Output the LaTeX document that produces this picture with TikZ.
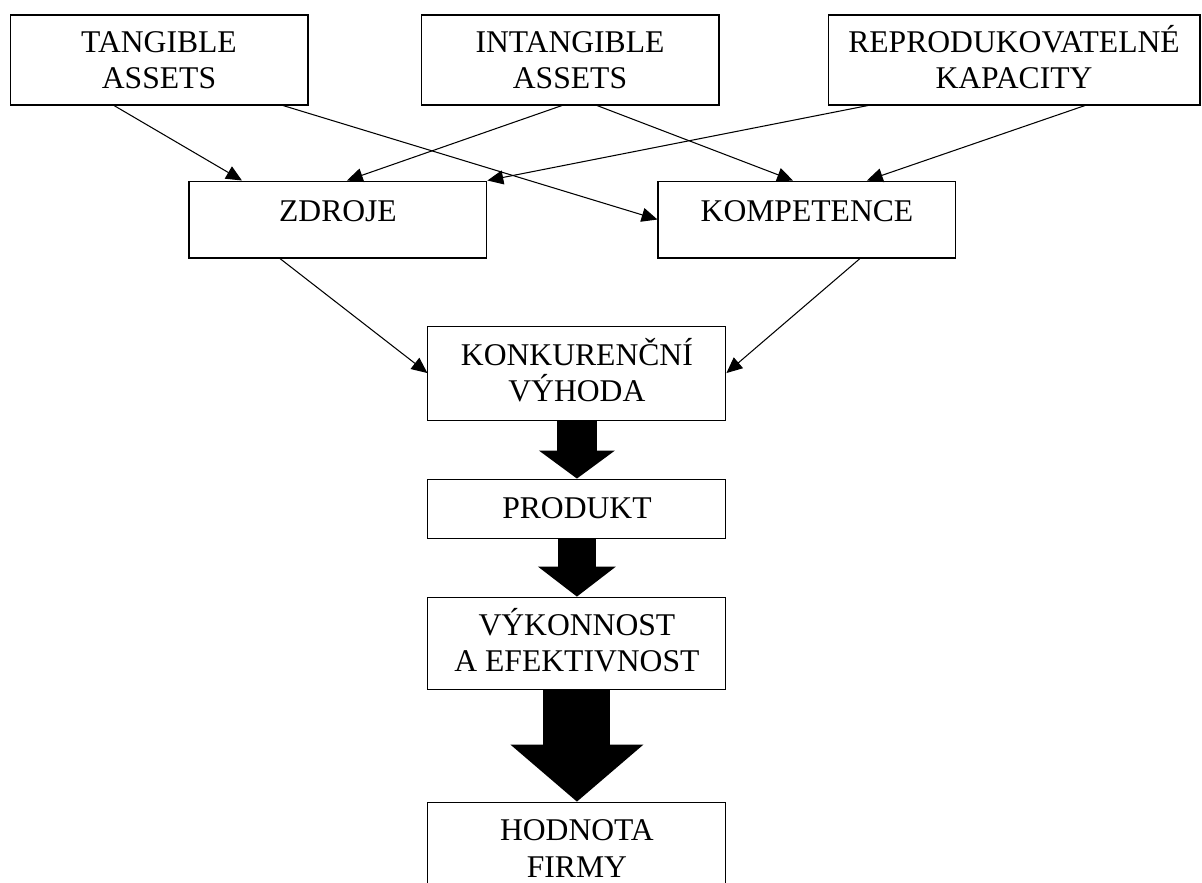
\documentclass[tikz,border=0pt]{standalone}
\usepackage{fontspec}
\setmainfont{Liberation Serif}
\usetikzlibrary{positioning, calc, arrows.meta}

\begin{document}
\begin{tikzpicture}[
    x=0.02cm, y=-0.02cm,
    node distance=1.16cm and 2.2cm,
    box/.style={rectangle, draw, line width=0.6pt, minimum width=5.96cm, align=center,
    inner sep=0pt, font=\fontsize{18}{20.7}\selectfont},
    source/.style={box, minimum height=1.8cm},
    middle/.style={box, minimum height=1.54cm, text height=12.6pt, text depth=10.8pt},
    arrow/.style={line width=0.6pt, -{Triangle[length=9pt, width=8pt]}},
    fat/.style n args={3}{line width=#1, -{Triangle[length=#3, width=#2, line width=0pt]}}
]
\useasboundingbox (0,0) rectangle (1202,882);
\clip (0,0) rectangle (1202,882);

% Nodes
\node[source] (tangible) at (159,60) {TANGIBLE\\ASSETS};
\node[source] (intangible) at (570,60) {INTANGIBLE\\ASSETS};
\node[source, minimum width=7.44cm] (repro) at (1014,60) {REPRODUKOVATELN\smash{É}\\KAPACITY};

\node[middle, below=1.5cm of tangible, xshift=3.58cm] (zdroje) {ZDROJE};
\node[middle, below=1.5cm of intangible, xshift=4.74cm] (kompetence) {KOMPETENCE};

\node[box, minimum height=1.88cm, below=1.34cm of zdroje, xshift=4.78cm] (vyhoda) {KONKUREN\smash{Č}N\smash{Í}\\VÝHODA};
\node[box, minimum height=1.18cm, below=of vyhoda] (produkt) {PRODUKT};
\node[box, minimum height=1.84cm, below=of produkt] (vykonnost) {V\smash{Ý}KONNOST\\A EFEKTIVNOST};
\node[box, minimum height=1.86cm, below=2.24cm of vykonnost] (hodnota) {HODNOTA\\FIRMY};

% Arrows
\draw[arrow] ($(tangible.south)+(-45,0)$) -- ($(zdroje.north)+(-96,0)$);
\draw[arrow] ($(tangible.south)+(124,0)$) -- (kompetence.west);
\draw[arrow] ($(intangible.south)+(-8,0)$) -- ($(zdroje.north)+(9,0)$);
\draw[arrow] ($(intangible.south)+(27,0)$) -- ($(kompetence.north)+(-14,0)$);
\draw[arrow] ($(repro.south)+(-146,0)$) -- (zdroje.north east);
\draw[arrow] ($(repro.south)+(71,0)$) -- ($(kompetence.north)+(60,0)$);
\draw[arrow] ($(zdroje.south)+(-58,0)$) -- (vyhoda.west);
\draw[arrow] ($(kompetence.south)+(53,0)$) -- (vyhoda.east);

\draw[fat={0.8cm}{1.52cm}{0.56cm}] (vyhoda) -- (produkt);
\draw[fat={0.76cm}{1.56cm}{0.6cm}] (produkt) -- (vykonnost);
\draw[fat={1.34cm}{2.66cm}{1.14cm}] (vykonnost) -- (hodnota);

\end{tikzpicture}
\end{document}
